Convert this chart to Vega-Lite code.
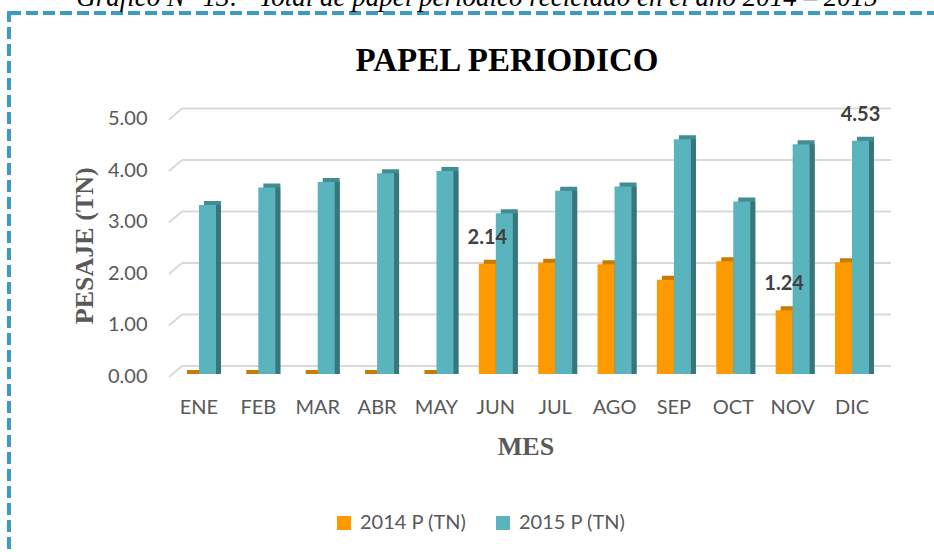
{
  "$schema": "https://vega.github.io/schema/vega-lite/v6.json",
  "width": 930,
  "height": 545,
  "autosize": {"type": "none"},
  "padding": {"left": 9, "top": 13, "right": -5, "bottom": -6},
  "background": "white",
  "view": {"stroke": "#3b9bc4", "strokeWidth": 4, "strokeDash": [12, 5], "fill": null},
  "title": {
    "text": "Gráfico N° 13:\u00a0\u00a0\u00a0Total de papel periódico reciclado en el año 2014 – 2015\u2800\u2800\u2800",
    "subtitle": "PAPEL PERIODICO",
    "anchor": "middle",
    "dx": 33,
    "offset": -66,
    "font": "Liberation Serif",
    "fontStyle": "italic",
    "fontWeight": "normal",
    "fontSize": 27,
    "color": "black",
    "subtitleFont": "Liberation Serif",
    "subtitleFontWeight": "bold",
    "subtitleFontSize": 33,
    "subtitleColor": "black",
    "subtitlePadding": 33
  },
  "resolve": {"scale": {"xOffset": "independent"}},
  "datasets": {
    "papel": [
      {"mes": "ENE", "serie": "2014 P (TN)", "valor": 0, "label": null},
      {"mes": "ENE", "serie": "2015 P (TN)", "valor": 3.28, "label": null},
      {"mes": "FEB", "serie": "2014 P (TN)", "valor": 0, "label": null},
      {"mes": "FEB", "serie": "2015 P (TN)", "valor": 3.62, "label": null},
      {"mes": "MAR", "serie": "2014 P (TN)", "valor": 0, "label": null},
      {"mes": "MAR", "serie": "2015 P (TN)", "valor": 3.73, "label": null},
      {"mes": "ABR", "serie": "2014 P (TN)", "valor": 0, "label": null},
      {"mes": "ABR", "serie": "2015 P (TN)", "valor": 3.9, "label": null},
      {"mes": "MAY", "serie": "2014 P (TN)", "valor": 0, "label": null},
      {"mes": "MAY", "serie": "2015 P (TN)", "valor": 3.94, "label": null},
      {"mes": "JUN", "serie": "2014 P (TN)", "valor": 2.14, "label": "2.14"},
      {"mes": "JUN", "serie": "2015 P (TN)", "valor": 3.12, "label": null},
      {"mes": "JUL", "serie": "2014 P (TN)", "valor": 2.16, "label": null},
      {"mes": "JUL", "serie": "2015 P (TN)", "valor": 3.56, "label": null},
      {"mes": "AGO", "serie": "2014 P (TN)", "valor": 2.13, "label": null},
      {"mes": "AGO", "serie": "2015 P (TN)", "valor": 3.64, "label": null},
      {"mes": "SEP", "serie": "2014 P (TN)", "valor": 1.83, "label": null},
      {"mes": "SEP", "serie": "2015 P (TN)", "valor": 4.56, "label": null},
      {"mes": "OCT", "serie": "2014 P (TN)", "valor": 2.19, "label": null},
      {"mes": "OCT", "serie": "2015 P (TN)", "valor": 3.35, "label": null},
      {"mes": "NOV", "serie": "2014 P (TN)", "valor": 1.24, "label": "1.24"},
      {"mes": "NOV", "serie": "2015 P (TN)", "valor": 4.46, "label": null},
      {"mes": "DIC", "serie": "2014 P (TN)", "valor": 2.17, "label": null},
      {"mes": "DIC", "serie": "2015 P (TN)", "valor": 4.53, "label": "4.53"}
    ],
    "ticks": [{"v": 0}, {"v": 1}, {"v": 2}, {"v": 3}, {"v": 4}, {"v": 5}]
  },
  "encoding": {
    "x": {
      "field": "mes",
      "type": "nominal",
      "sort": ["ENE", "FEB", "MAR", "ABR", "MAY", "JUN", "JUL", "AGO", "SEP", "OCT", "NOV", "DIC"],
      "scale": {"range": [160.3, 872.7], "paddingInner": 0.427, "paddingOuter": 0.2136},
      "axis": {
        "orient": "bottom",
        "offset": -184,
        "title": "MES",
        "labelAngle": 0,
        "domain": false,
        "ticks": false,
        "tickSize": 0,
        "grid": false,
        "labelPadding": 23,
        "labelFont": "Lato",
        "labelFontSize": 20,
        "labelColor": "#595959",
        "titleFont": "Liberation Serif",
        "titleFontWeight": "bold",
        "titleFontSize": 26,
        "titleColor": "#595959",
        "titlePadding": 16
      }
    }
  },
  "layer": [
    {
      "data": {"name": "ticks"},
      "mark": {"type": "rule", "color": "#d9d9d9", "strokeWidth": 2, "xOffset": -17, "x2Offset": 39, "yOffset": -8, "y2Offset": -8},
      "encoding": {
        "x": {"datum": "ENE", "type": "nominal"},
        "x2": {"datum": "DIC"},
        "y": {
          "field": "v",
          "type": "quantitative",
          "scale": {"domain": [0, 5], "range": [361, 103.5], "nice": false},
          "axis": {
            "orient": "left",
            "offset": -160,
            "title": "PESAJE (TN)",
            "values": [0, 1, 2, 3, 4, 5],
            "format": ".2f",
            "domain": false,
            "ticks": false,
            "tickSize": 0,
            "grid": false,
            "labelPadding": 22,
            "labelOffset": 2,
            "labelFont": "Lato",
            "labelFontSize": 20,
            "labelColor": "#595959",
            "titleFont": "Liberation Serif",
            "titleFontWeight": "bold",
            "titleFontSize": 26,
            "titleColor": "#595959",
            "titlePadding": 10
          }
        }
      }
    },
    {
      "data": {"name": "ticks"},
      "mark": {"type": "rule", "color": "#d9d9d9", "strokeWidth": 2, "xOffset": -30, "x2Offset": -17, "yOffset": 3, "y2Offset": -8},
      "encoding": {
        "x": {"datum": "ENE", "type": "nominal"},
        "x2": {"datum": "ENE"},
        "y": {"field": "v", "type": "quantitative"},
        "y2": {"field": "v"}
      }
    },
    {
      "data": {"name": "papel"},
      "mark": {"type": "bar", "yOffset": -4, "y2Offset": 0.01},
      "encoding": {
        "xOffset": {"field": "serie", "type": "nominal", "scale": {"range": [5, 39], "paddingInner": 0, "paddingOuter": 0}},
        "y": {"field": "valor", "type": "quantitative"},
        "y2": {"datum": 0},
        "color": {"condition": {"test": "datum.serie === '2014 P (TN)'", "value": "#c97a00"}, "value": "#428c93"}
      }
    },
    {
      "data": {"name": "papel"},
      "mark": {"type": "bar"},
      "encoding": {
        "xOffset": {"field": "serie", "type": "nominal", "scale": {"range": [5, 39], "paddingInner": 0, "paddingOuter": 0}},
        "y": {"field": "valor", "type": "quantitative"},
        "color": {"condition": {"test": "datum.serie === '2014 P (TN)'", "value": "#b56d00"}, "value": "#37767b"}
      }
    },
    {
      "data": {"name": "papel"},
      "mark": {"type": "bar"},
      "encoding": {
        "xOffset": {"field": "serie", "type": "nominal", "scale": {"paddingInner": 0, "paddingOuter": 0}},
        "y": {"field": "valor", "type": "quantitative"},
        "color": {
          "field": "serie",
          "type": "nominal",
          "scale": {"domain": ["2014 P (TN)", "2015 P (TN)"], "range": ["#ff9900", "#59b4be"]},
          "legend": {
            "orient": "none",
            "legendX": 325,
            "legendY": 500,
            "direction": "horizontal",
            "title": null,
            "symbolType": "square",
            "symbolSize": 196,
            "symbolStrokeWidth": 0,
            "labelFont": "Lato",
            "labelFontSize": 20,
            "labelColor": "#595959",
            "labelOffset": 6,
            "columnPadding": 26,
            "padding": 0
          }
        }
      }
    },
    {
      "data": {"name": "papel"},
      "transform": [{"filter": "datum.label != null"}],
      "mark": {"type": "text", "align": "center", "baseline": "middle", "dy": -26, "font": "Lato", "fontWeight": "bold", "fontSize": 20, "color": "#404040"},
      "encoding": {
        "xOffset": {"field": "serie", "type": "nominal", "scale": {"type": "band", "domain": ["2014 P (TN)", "2015 P (TN)"], "paddingInner": 0, "paddingOuter": 0}},
        "y": {"field": "valor", "type": "quantitative"},
        "text": {"field": "label"}
      }
    }
  ]
}
